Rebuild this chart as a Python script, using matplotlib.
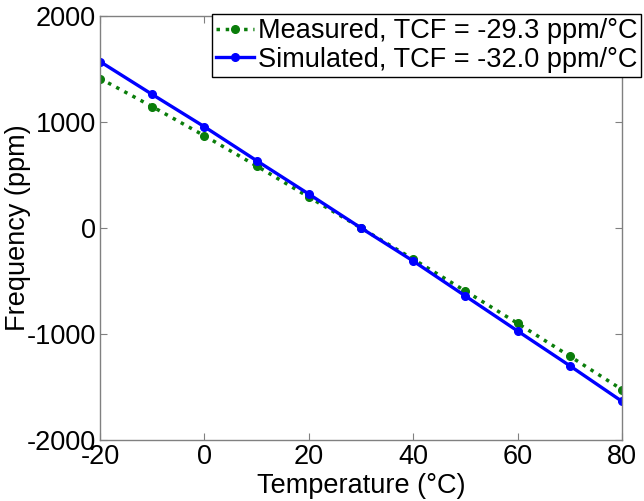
import matplotlib.pyplot as plt

# Temperature sweep and frequency shift (ppm)
temperature = [-20, -10, 0, 10, 20, 30, 40, 50, 60, 70, 80]
measured = [1410, 1145, 870, 585, 292, 0, -294, -595, -900, -1210, -1525]
simulated = [1570, 1260, 955, 635, 320, 0, -312, -642, -972, -1300, -1636]

x_ticks = [-20, 0, 20, 40, 60, 80]
y_ticks = [-2000, -1000, 0, 1000, 2000]

plt.rcParams['font.family'] = ['Liberation Sans', 'DejaVu Sans']
plt.rcParams['axes.unicode_minus'] = False

fig = plt.figure(figsize=(6.44, 5.01), dpi=100)
ax = fig.add_axes([0.1553, 0.1218, 0.8106, 0.8463])

green = '#0a7d0a'
blue = '#0000ff'
ax.plot(temperature, measured, color=green, linestyle=':', linewidth=2.5,
        marker='o', markersize=5.5, label='Measured, TCF = -29.3 ppm/°C')
ax.plot(temperature, simulated, color=blue, linestyle='-', linewidth=2.4,
        marker='o', markersize=5.5, label='Simulated, TCF = -32.0 ppm/°C')

ax.set_xlim(-20, 80)
ax.set_ylim(-2000, 2000)
ax.set_xticks(x_ticks)
ax.set_yticks(y_ticks)
ax.tick_params(direction='in', length=5, width=0.8, color='#808080',
               top=True, right=True, labelsize=19.5, pad=3)
for s in ax.spines.values():
    s.set_color('#808080')
    s.set_linewidth(1)

ax.set_xlabel('Temperature (°C)', fontsize=19.5, labelpad=2)
ax.set_ylabel('Frequency (ppm)', fontsize=19.5, labelpad=-3)

leg = ax.legend(loc='upper right', bbox_to_anchor=(0.996, 0.972),
                bbox_transform=fig.transFigure, fontsize=19.5, frameon=True,
                fancybox=False, framealpha=1, edgecolor='black',
                handlelength=1.4, handletextpad=0.15, borderpad=0.15,
                labelspacing=0.1, borderaxespad=0)
leg.get_frame().set_linewidth(1)

fig.savefig('out.png', dpi=100)
